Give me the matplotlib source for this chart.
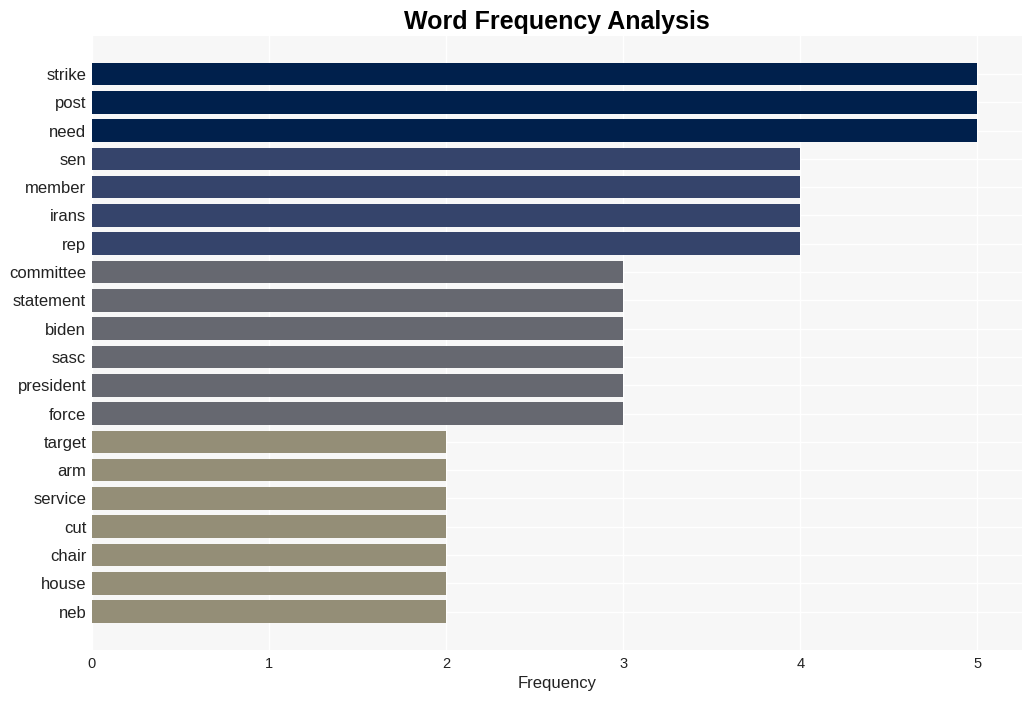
import matplotlib
matplotlib.use("Agg")
import matplotlib.pyplot as plt

plt.rcParams["font.family"] = ["Liberation Sans", "DejaVu Sans"]

words = ["strike", "post", "need", "sen", "member", "irans", "rep", "committee",
         "statement", "biden", "sasc", "president", "force", "target", "arm",
         "service", "cut", "chair", "house", "neb"]
counts = [5, 5, 5, 4, 4, 4, 4, 3, 3, 3, 3, 3, 3, 2, 2, 2, 2, 2, 2, 2]

# one colour per frequency level
level_colors = {5: "#00204C", 4: "#35446B", 3: "#666870", 2: "#948E77"}

fig, ax = plt.subplots(figsize=(10.31, 7.01), dpi=100)
fig.subplots_adjust(left=0.089, right=0.991, top=0.949, bottom=0.073)

ypos = list(range(len(words)))
ax.barh(ypos, counts, height=0.8, color=[level_colors[c] for c in counts], zorder=2)

ax.set_facecolor("#F7F7F7")
ax.set_yticks(ypos)
ax.set_yticklabels(words, fontsize=12, color="#222222")
ax.set_ylim(len(words) - 1 + 1.35, -1.35)
ax.set_xlim(0, 5.25)
ax.set_xticks(range(6))
ax.tick_params(axis="x", labelsize=10.5, colors="#222222", length=0, pad=5)
ax.tick_params(axis="y", length=0, pad=4)
ax.grid(True, color="white", linewidth=1, zorder=0)
ax.set_axisbelow(True)
for spine in ax.spines.values():
    spine.set_visible(False)

ax.set_xlabel("Frequency", fontsize=12, color="#222222", labelpad=4)
ax.set_title("Word Frequency Analysis", fontsize=18, fontweight="bold", pad=5)

fig.savefig("out.png", dpi=100)
